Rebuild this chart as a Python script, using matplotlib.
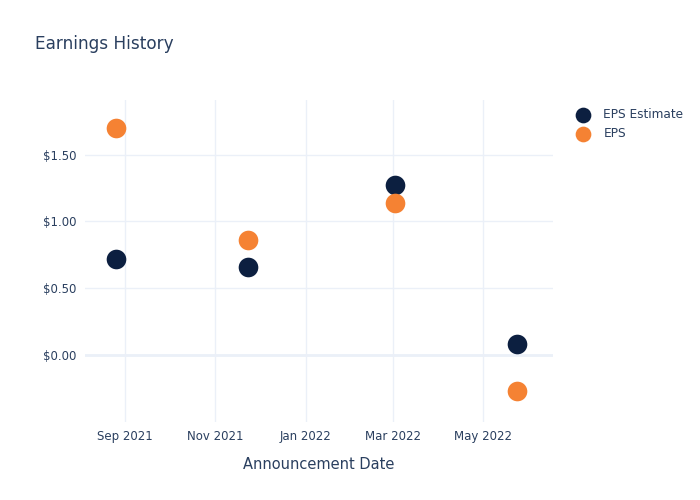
import matplotlib
matplotlib.use("Agg")
import matplotlib.pyplot as plt
import pandas as pd

# data
dates = pd.to_datetime(["2021-08-26", "2021-11-23", "2022-03-02", "2022-05-24"])
eps_estimate = [0.72, 0.66, 1.27, 0.08]
eps_actual = [1.70, 0.86, 1.14, -0.27]
tick_dates = pd.to_datetime(["2021-09-01", "2021-11-01", "2022-01-01", "2022-03-01", "2022-05-01"])
tick_labels = ["Sep 2021", "Nov 2021", "Jan 2022", "Mar 2022", "May 2022"]
y_ticks = [0.0, 0.5, 1.0, 1.5]

text_color = "#2a3f5f"
grid_color = "#ebf0f8"
navy = "#0c1f40"
orange = "#f58233"

fig = plt.figure(figsize=(7, 5), dpi=100)
ax = fig.add_axes([85 / 700, 78 / 500, 468 / 700, 322 / 500])

ax.scatter(dates, eps_estimate, s=200, color=navy, label="EPS Estimate", zorder=3, linewidths=0)
ax.scatter(dates, eps_actual, s=200, color=orange, label="EPS", zorder=3, linewidths=0)

ax.set_xlim(pd.Timestamp("2021-08-05"), pd.Timestamp("2022-06-17"))
ax.set_ylim(-0.505, 1.91)

ax.set_xticks(tick_dates)
ax.set_xticklabels(tick_labels)
ax.set_yticks(y_ticks)
ax.set_yticklabels(["$%.2f" % v for v in y_ticks])

ax.grid(True, color=grid_color, linewidth=1)
ax.axhline(0, color=grid_color, linewidth=2, zorder=1)
ax.set_axisbelow(True)
for s in ax.spines.values():
    s.set_visible(False)
ax.tick_params(length=0, colors=text_color, labelsize=8.5, pad=6)

ax.set_xlabel("Announcement Date", color=text_color, fontsize=10.5, labelpad=10)
fig.text(35 / 700, 1 - 44 / 500, "Earnings History", color=text_color, fontsize=12.2, va="center")

leg = ax.legend(loc="upper left", bbox_to_anchor=(566 / 700, 1 - 103 / 500), bbox_transform=fig.transFigure,
                frameon=False, fontsize=8.7, handletextpad=0.7, labelspacing=0.5, borderaxespad=0,
                markerscale=0.8)
for t in leg.get_texts():
    t.set_color(text_color)

fig.savefig("out.png", dpi=100)
